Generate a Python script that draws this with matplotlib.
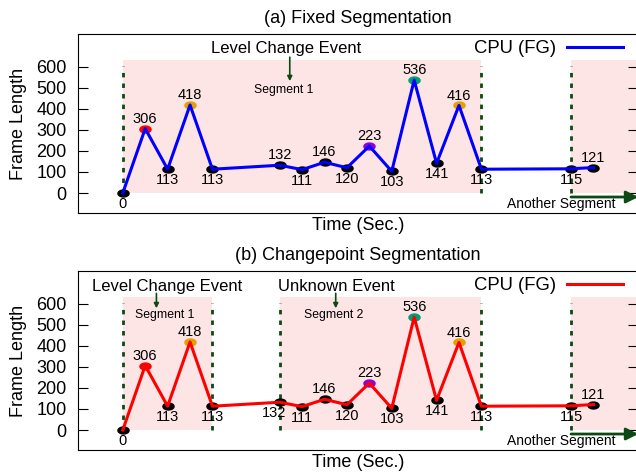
import matplotlib
matplotlib.use("Agg")
import matplotlib.pyplot as plt
import numpy as np
from matplotlib.path import Path

plt.rcParams['font.family'] = ['Liberation Sans', 'DejaVu Sans']

# data
times = [0, 1, 2, 3, 4, 7, 8, 9, 10, 11, 12, 13, 14, 15, 16, 20, 21]
frame_len = [0, 306, 113, 418, 113, 132, 111, 146, 120, 223, 103, 536, 141, 416, 113, 115, 121]
point_colors = ['black', 'red', 'black', '#e69f00', 'black', 'black', 'black', 'black', 'black',
                '#9400d3', 'black', '#009e73', 'black', '#e69f00', 'black', 'black', 'black']
labels_up_a = [False, True, False, True, False, True, False, True, False,
               True, False, True, False, True, False, False, True]
labels_up_b = [False, True, False, True, False, False, False, True, False,
               True, False, True, False, True, False, False, True]

fixed_segments = [(0, 16), (20, 24)]
fixed_bounds = [0, 16, 20]
cp_segments = [(0, 4), (7, 16), (20, 24)]
cp_bounds = [0, 4, 7, 16, 20]

PINK = '#fde5e5'
DKGREEN = '#0b4a12'

# ellipse marker
t = np.linspace(0, 2 * np.pi, 40)
ell = Path(np.column_stack([1.6 * np.cos(t), np.sin(t)]), closed=True)

fig = plt.figure(figsize=(6.36, 4.74), dpi=100)
ax_a = fig.add_axes([0.1226, 0.5506, 0.881, 0.3776])
ax_b = fig.add_axes([0.1226, 0.0506, 0.881, 0.3776])


def panel(ax, color, title, segments, bounds, labels_up, events, shift_first_low=0):
    for s0, s1 in segments:
        ax.fill_between([s0, s1], 0, 630, color=PINK, lw=0, zorder=0)
    for b in bounds:
        ax.plot([b, b], [0, 605], color=DKGREEN, lw=2, ls=(0, (1.6, 2.2)), zorder=1)
    for x, y, c in zip(times, frame_len, point_colors):
        ax.plot(x, y, marker=ell, ms=8, color=c, ls='none', zorder=2)
    ax.plot(times, frame_len, color=color, lw=2.2, zorder=3, label='CPU (FG)')
    for i, (x, y, up) in enumerate(zip(times, frame_len, labels_up)):
        dx = shift_first_low if i == 5 else 0
        if up:
            ax.annotate(str(y), (x, y), xytext=(dx, 2), textcoords='offset points',
                        ha='center', va='bottom', fontsize=10.5)
        else:
            ax.annotate(str(y), (x, y), xytext=(dx, -3), textcoords='offset points',
                        ha='center', va='top', fontsize=10.5)
    for txt, tx, ty, axx, ay0, ay1, seg, sx, sy in events:
        ax.text(tx, ty, txt, ha='center', va='center', fontsize=12)
        ax.annotate('', xy=(axx, ay1), xytext=(axx, ay0),
                    arrowprops=dict(arrowstyle='-|>', color=DKGREEN, lw=1.2,
                                    mutation_scale=7, shrinkA=0, shrinkB=0))
        ax.text(sx, sy, seg, ha='center', va='center', fontsize=8.8)
    # another segment arrow
    ax.annotate('', xy=(23.0, -19), xytext=(20, -19),
                arrowprops=dict(arrowstyle='-|>', color=DKGREEN, lw=2,
                                mutation_scale=18, shrinkA=0, shrinkB=0))
    ax.text(22.0, -52, 'Another Segment', ha='right', va='center', fontsize=10)

    ax.set_xlim(-2, 23)
    ax.set_ylim(-95, 755)
    ax.set_yticks(range(0, 700, 100))
    ax.set_xticks([])
    ax.tick_params(axis='y', direction='in', length=7, labelsize=13, pad=8, right=True)
    ax.set_ylabel('Frame Length', fontsize=13, labelpad=7)
    ax.set_xlabel('Time (Sec.)', fontsize=13, labelpad=3)
    ax.set_title(title, fontsize=13, pad=8)
    ax.legend(loc='upper left', bbox_to_anchor=(0.707, 0.965), frameon=False,
              markerfirst=False, handlelength=3.0, fontsize=13.3,
              borderpad=0, borderaxespad=0, handletextpad=0.6)


panel(ax_a, '#0000ff', '(a) Fixed Segmentation', fixed_segments, fixed_bounds, labels_up_a,
      [('Level Change Event', 7.3, 687, 7.45, 645, 531, 'Segment 1', 7.2, 488)])
panel(ax_b, '#ff0000', '(b) Changepoint Segmentation', cp_segments, cp_bounds, labels_up_b,
      [('Level Change Event', 2.0, 682, 1.5, 649, 578, 'Segment 1', 1.85, 545),
       ('Unknown Event', 9.55, 682, 9.5, 649, 578, 'Segment 2', 9.4, 545)],
      shift_first_low=-4)

fig.savefig('out.png', dpi=100)
